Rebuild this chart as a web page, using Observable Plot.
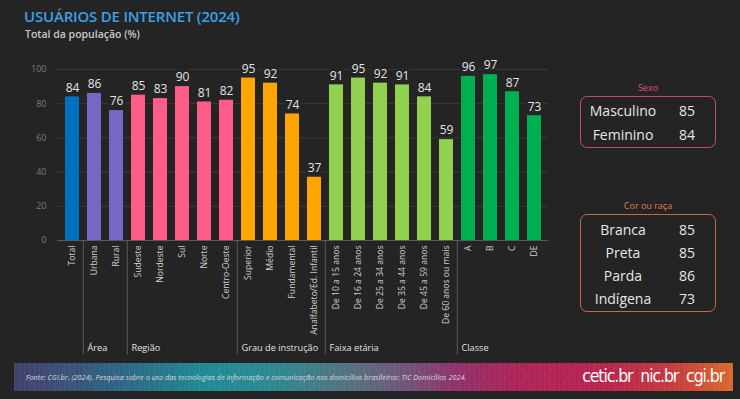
<!DOCTYPE html>
<html>
<head>
<meta charset="utf-8">
<script src="https://cdn.jsdelivr.net/npm/d3@7"></script>
<script src="https://cdn.jsdelivr.net/npm/@observablehq/plot@0.6"></script>
<style>
  html, body { margin:0; padding:0; background:#242424; }
  body { width:740px; height:399px; position:relative; overflow:hidden; font-family:"Open Sans", sans-serif; }
  #title { position:absolute; left:24px; top:8px; line-height:16px; height:16px; font-size:15px; font-weight:600; color:#3aa0e6; letter-spacing:-0.2px; white-space:nowrap; }
  #subtitle { position:absolute; left:25px; top:28.5px; line-height:10px; height:10px; font-size:10.5px; font-weight:600; color:#c8c8c8; white-space:nowrap; }
  #chart { position:absolute; left:0; top:0; }
  .boxTitle { position:absolute; width:136px; text-align:center; font-size:9px; line-height:12px; }
  .box { position:absolute; border-radius:7px; box-sizing:border-box; }
  .row { position:absolute; left:0; width:100%; height:20px; line-height:20px; font-size:14px; color:#e6e6e6; }
  .row .k { position:absolute; width:84px; left:0; text-align:center; }
  .row .v { position:absolute; width:40px; left:86px; text-align:center; }
  #footer { position:absolute; left:14px; top:363px; width:719px; height:28px; overflow:hidden;
    background:
      repeating-linear-gradient(90deg, rgba(255,255,255,0.045) 0 1px, transparent 1px 5px),
      repeating-linear-gradient(60deg, rgba(255,255,255,0.035) 0 1px, transparent 1px 18px),
      repeating-linear-gradient(120deg, rgba(255,255,255,0.035) 0 1px, transparent 1px 18px),
      linear-gradient(90deg, #433f6e 0%, #2f6384 14%, #1e8b94 27%, #2f8790 37%, #56707f 47%, #6b5a7c 53%, #92306a 62%, #ad2458 70%, #b8244e 82%, #c23a40 91%, #d9692c 100%); }
  #fonte { position:absolute; left:12px; top:9px; line-height:10px; font-size:7.3px; font-style:italic; color:#d8d8d8; white-space:nowrap; }
  #logos { position:absolute; right:9px; top:3px; line-height:20px; font-size:17.5px; color:#ffffff; white-space:nowrap; font-family:"DejaVu Sans Condensed","DejaVu Sans",sans-serif; font-stretch:condensed; letter-spacing:-1.1px; word-spacing:4px; }
</style>
</head>
<body>
<div id="title">USUÁRIOS DE INTERNET (2024)</div>
<div id="subtitle">Total da população (%)</div>
<div id="chart"></div>

<div class="boxTitle" style="left:580px; top:82px; color:#e0507e;">Sexo</div>
<div class="box" id="boxSexo" style="left:580px; top:96px; width:136px; height:52px; border:1.3px solid #c24d72;"></div>

<div class="boxTitle" style="left:580px; top:200px; color:#e27a48;">Cor ou raça</div>
<div class="box" id="boxCor" style="left:580px; top:214px; width:136px; height:98px; border:1.3px solid #c9683e;"></div>

<div id="footer">
  <div id="fonte">Fonte: CGI.br. (2024). Pesquisa sobre o uso das tecnologias de informação e comunicação nos domicílios brasileiros: TIC Domicílios 2024.</div>
  <div id="logos">cetic.br nic.br cgi.br</div>
</div>

<script>
// ---- data ----
const categories = ["Total","Urbana","Rural","Sudeste","Nordeste","Sul","Norte","Centro-Oeste",
  "Superior","Médio","Fundamental","Analfabeto/Ed. Infantil",
  "De 10 a 15 anos","De 16 a 24 anos","De 25 a 34 anos","De 35 a 44 anos","De 45 a 59 anos","De 60 anos ou mais",
  "A","B","C","DE"];
const values = [84,86,76,85,83,90,81,82, 95,92,74,37, 91,95,92,91,84,59, 96,97,87,73];
const groupOf = ["Total","Área","Área","Região","Região","Região","Região","Região",
  "Grau de instrução","Grau de instrução","Grau de instrução","Grau de instrução",
  "Faixa etária","Faixa etária","Faixa etária","Faixa etária","Faixa etária","Faixa etária",
  "Classe","Classe","Classe","Classe"];
const groupNames = ["Área","Região","Grau de instrução","Faixa etária","Classe"];
const yTicks = [0,20,40,60,80,100];

const sexoLabels = ["Masculino","Feminino"];
const sexoValues = [85,84];
const corLabels = ["Branca","Preta","Parda","Indígena"];
const corValues = [85,85,86,73];

// ---- styles (scale ranges) ----
const palette = ["#0070c0","#7866c4","#ff5c8a","#ffa500","#92d050","#00b050"];
const bg = "#242424";

const data = categories.map((c,i) => ({cat:c, value:values[i], group:groupOf[i]}));
const groupStarts = groupNames.map(g => ({name:g, first: categories[groupOf.indexOf(g)]}));
const axisDepth = -67;   // how far the group separators run below the baseline (in y units)
const labelLevel = -63;

const chart = Plot.plot({
  width: 560, height: 360,
  marginTop: 69, marginBottom: 120, marginLeft: 57, marginRight: 12,
  style: {background:"transparent", fontFamily:"'Open Sans', sans-serif", color:"#8a8a8a"},
  x: {domain: categories, paddingInner: 0.374, paddingOuter: 0.157, axis: null},
  y: {domain: [0,100], axis: null},
  color: {domain: ["Total", ...groupNames], range: palette},
  marks: [
    Plot.gridY(yTicks, {stroke:"#3a3a3a", strokeOpacity:1, strokeWidth:1}),
    Plot.axisY(yTicks, {tickSize:0, tickPadding:11, fontSize:9, fill:"#7c7c7c", label:null}),
    Plot.barY(data, {x:"cat", y:"value", fill:"group"}),
    Plot.ruleY([0], {stroke:"#5a5a5a"}),
    Plot.axisX({tickSize:0, tickPadding:5, tickRotate:-90, fontSize:8.6, fill:"#d0d0d0", label:null}),
    Plot.ruleX(groupStarts, {x:"first", dx:-11.2, y1:0, y2:axisDepth, stroke:"#5a5a5a"}),
    Plot.text(groupStarts, {x:"first", y:labelLevel, dx:-7, text:"name", textAnchor:"start", fill:"#e0e0e0", fontSize:9.2}),
    Plot.text(data, {x:"cat", y:"value", text:"value", dy:-9, fill:"#e4e4e4", fontSize:12,
      stroke:bg, strokeWidth:6, paintOrder:"stroke"})
  ]
});
document.getElementById("chart").appendChild(chart);

// ---- side boxes ----
function fillBox(id, labels, vals, top0, step) {
  const box = document.getElementById(id);
  labels.forEach((l,i) => {
    const r = document.createElement("div");
    r.className = "row";
    r.style.top = (top0 + i*step) + "px";
    r.innerHTML = `<span class="k">${l}</span><span class="v">${vals[i]}</span>`;
    box.appendChild(r);
  });
}
fillBox("boxSexo", sexoLabels, sexoValues, 4, 24);
fillBox("boxCor", corLabels, corValues, 5, 23);
</script>
</body>
</html>
